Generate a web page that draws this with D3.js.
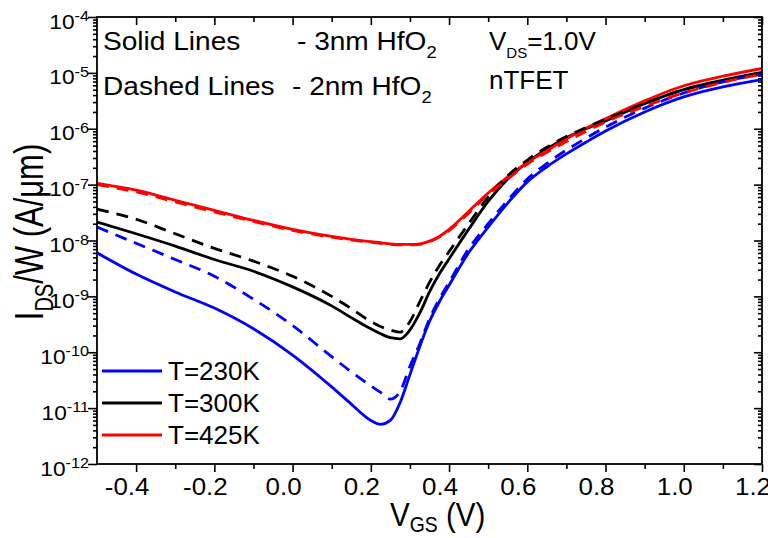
<!DOCTYPE html>
<html><head><meta charset="utf-8">
<script src="https://cdn.jsdelivr.net/npm/d3@7"></script>
<style>body{margin:0;background:#fff}text{font-family:"Liberation Sans",Arial,sans-serif;fill:#000}</style>
</head><body><svg id="c" width="768" height="538"></svg>
<script>
// Gate voltage grid (V)
const vgs = [-0.5,-0.4,-0.3,-0.2,-0.1,0.0,0.1,0.15,0.2,0.225,0.25,0.275,0.3,0.325,0.35,0.375,0.4,0.45,0.5,0.55,0.6,0.65,0.7,0.75,0.8,0.9,1.0,1.1,1.2];
// I_DS/W (A/um)
const t230Solid = [6.03e-9,2.51e-9,1.20e-9,6.17e-10,2.63e-10,8.91e-11,2.40e-11,1.18e-11,6.03e-12,5.13e-12,6.03e-12,1.26e-11,3.98e-11,1.26e-10,3.55e-10,7.94e-10,1.58e-9,6.03e-9,1.74e-8,4.68e-8,1.12e-7,2.09e-7,3.55e-7,5.75e-7,9.12e-7,2.00e-6,3.72e-6,5.62e-6,7.59e-6];
const t230Dashed = [1.74e-8,8.91e-9,4.57e-9,2.29e-9,8.91e-10,3.02e-10,8.32e-11,4.47e-11,2.51e-11,1.91e-11,1.45e-11,2.00e-11,5.62e-11,1.41e-10,3.98e-10,8.91e-10,1.78e-9,7.08e-9,2.00e-8,5.25e-8,1.26e-7,2.40e-7,4.17e-7,6.76e-7,1.07e-6,2.34e-6,4.37e-6,6.92e-6,9.55e-6];
const t300Solid = [2.14e-8,1.32e-8,7.94e-9,4.57e-9,2.82e-9,1.48e-9,6.76e-10,4.17e-10,2.63e-10,2.14e-10,1.82e-10,1.74e-10,2.51e-10,5.01e-10,1.20e-9,2.51e-9,4.68e-9,1.58e-8,5.01e-8,1.26e-7,2.51e-7,4.37e-7,6.92e-7,1.00e-6,1.38e-6,2.82e-6,5.01e-6,7.41e-6,1.02e-5];
const t300Dashed = [3.63e-8,2.40e-8,1.32e-8,7.24e-9,4.27e-9,2.29e-9,1.00e-9,6.03e-10,3.55e-10,2.88e-10,2.51e-10,2.29e-10,3.55e-10,7.94e-10,1.78e-9,3.55e-9,6.31e-9,2.00e-8,6.03e-8,1.45e-7,2.75e-7,4.68e-7,7.24e-7,1.05e-6,1.48e-6,2.82e-6,5.01e-6,7.24e-6,9.55e-6];
const t425Solid = [1.05e-7,7.94e-8,5.25e-8,3.47e-8,2.29e-8,1.58e-8,1.18e-8,1.05e-8,9.55e-9,9.12e-9,8.71e-9,8.51e-9,8.51e-9,8.71e-9,9.77e-9,1.18e-8,1.58e-8,3.31e-8,7.08e-8,1.38e-7,2.51e-7,4.07e-7,6.61e-7,1.02e-6,1.51e-6,3.16e-6,5.89e-6,8.71e-6,1.20e-5];
const t425Dashed = [1.00e-7,7.41e-8,4.90e-8,3.24e-8,2.19e-8,1.51e-8,1.15e-8,1.02e-8,9.33e-9,8.91e-9,8.51e-9,8.32e-9,8.32e-9,8.51e-9,9.55e-9,1.15e-8,1.51e-8,3.09e-8,6.61e-8,1.26e-7,2.34e-7,3.80e-7,5.89e-7,8.91e-7,1.32e-6,2.51e-6,4.37e-6,6.76e-6,9.55e-6];

const xTicks = [-0.4,-0.2,0.0,0.2,0.4,0.6,0.8,1.0,1.2];
const xTickLabels = ["-0.4","-0.2","0.0","0.2","0.4","0.6","0.8","1.0","1.2"];
const xMinorTicks = [-0.3,-0.1,0.1,0.3,0.5,0.7,0.9,1.1];
const yTickExps = [-4,-5,-6,-7,-8,-9,-10,-11,-12];
const legendLabels = ["T=230K","T=300K","T=425K"];
const colors = ["#0000ff","#000000","#ff0000"];

const svg = d3.select("#c");
const L=97,R=762,T=17,B=464;
const x = d3.scaleLinear().domain([-0.5,1.2]).range([L,R]);
const y = d3.scaleLog().domain([1e-12,1e-4]).range([B,T]);

const yMajor = yTickExps.map(e=>Math.pow(10,e));
const yMinor = [];
for (let e=-12;e<-4;e++) for (let k=2;k<=9;k++) yMinor.push(k*Math.pow(10,e));

function axisG(axis, tx, ty){
  const g = svg.append("g").attr("transform",`translate(${tx},${ty})`).call(axis);
  g.select(".domain").remove();
  g.selectAll("line").attr("stroke","#000").attr("stroke-width",1.6);
  g.selectAll("text").remove();
  return g;
}
axisG(d3.axisBottom(x).tickValues(xTicks).tickSize(8).tickFormat(""),0,B);
axisG(d3.axisBottom(x).tickValues(xMinorTicks).tickSize(5).tickFormat(""),0,B);
axisG(d3.axisTop(x).tickValues(xTicks).tickSize(-8).tickFormat(""),0,T);
axisG(d3.axisTop(x).tickValues(xMinorTicks).tickSize(-5).tickFormat(""),0,T);
axisG(d3.axisLeft(y).tickValues(yMajor).tickSize(9).tickFormat(""),L,0);
axisG(d3.axisLeft(y).tickValues(yMinor).tickSize(4).tickFormat(""),L,0);
axisG(d3.axisRight(y).tickValues(yMajor).tickSize(-8).tickFormat(""),R,0);
axisG(d3.axisRight(y).tickValues(yMinor).tickSize(-4).tickFormat(""),R,0);

// curves
svg.append("clipPath").attr("id","clip").append("rect").attr("x",L).attr("y",T).attr("width",R-L).attr("height",B-T);
const line = d3.line().x((d,i)=>x(vgs[i])).y(d=>y(d)).curve(d3.curveMonotoneX);
const curves = svg.append("g").attr("clip-path","url(#clip)");
[[t230Solid,0],[t300Solid,1],[t425Solid,2]].forEach(([s,c])=>{
  curves.append("path").attr("d",line(s)).attr("fill","none").attr("stroke",colors[c]).attr("stroke-width",2.8);
});
[[t230Dashed,0],[t300Dashed,1],[t425Dashed,2]].forEach(([s,c])=>{
  curves.append("path").attr("d",line(s)).attr("fill","none").attr("stroke",colors[c]).attr("stroke-width",2.8).attr("stroke-dasharray","12,8");
});

// frame
svg.append("rect").attr("x",L).attr("y",T).attr("width",R-L).attr("height",B-T).attr("fill","none").attr("stroke","#000").attr("stroke-width",1.8);

function stext(px,py,anchor,size,sx,sy){
  return svg.append("text").attr("transform",`translate(${px},${py}) scale(${sx||1},${sy||1})`)
    .attr("text-anchor",anchor).attr("font-size",size);
}
// x tick labels
xTicks.forEach((v,i)=>{ stext(x(v)-9,495,"middle",24,1.08).text(xTickLabels[i]); });
// y tick labels
yTickExps.forEach(e=>{
  const t = stext(89,y(Math.pow(10,e))+11.5,"end",21,1.08);
  t.append("tspan").text("10");
  t.append("tspan").attr("font-size",15).attr("dy",-7.5).text(String(e));
});
// annotations
stext(103,50,"start",26,1.08).text("Solid Lines");
stext(103,95,"start",26,1.08).text("Dashed Lines");
[[297,50,"- 3nm HfO"],[292,95,"- 2nm HfO"]].forEach(([px,py,s])=>{
  const t = stext(px,py,"start",26,1.08);
  t.append("tspan").text(s);
  t.append("tspan").attr("font-size",17).attr("dy",8).text("2");
});
{
  const t = stext(489,50,"start",26);
  t.append("tspan").text("V");
  t.append("tspan").attr("font-size",15).attr("dy",8).text("DS");
  t.append("tspan").attr("dy",-8).text("=1.0V");
}
stext(489,89,"start",26).text("nTFET");

// legend
[371,403,435].forEach((ly,i)=>{
  svg.append("line").attr("x1",102).attr("x2",162).attr("y1",ly).attr("y2",ly).attr("stroke",colors[i]).attr("stroke-width",3);
  stext(168,ly+9,"start",26).text(legendLabels[i]);
});

// axis titles
{
  const t = stext(390,526,"start",29,1.02,1.12);
  t.append("tspan").text("V");
  t.append("tspan").attr("font-size",19).attr("dy",5.5).text("GS");
  t.append("tspan").attr("dy",-5.5).text(" (V)");
}
{
  const t = svg.append("text").attr("transform","translate(43,232) rotate(-90) scale(1,1.3)").attr("text-anchor","middle").attr("font-size",31);
  t.append("tspan").text("I");
  t.append("tspan").attr("font-size",20).attr("dy",8).text("DS");
  t.append("tspan").attr("dy",-8).text("/W (A/μm)");
}
</script></body></html>
